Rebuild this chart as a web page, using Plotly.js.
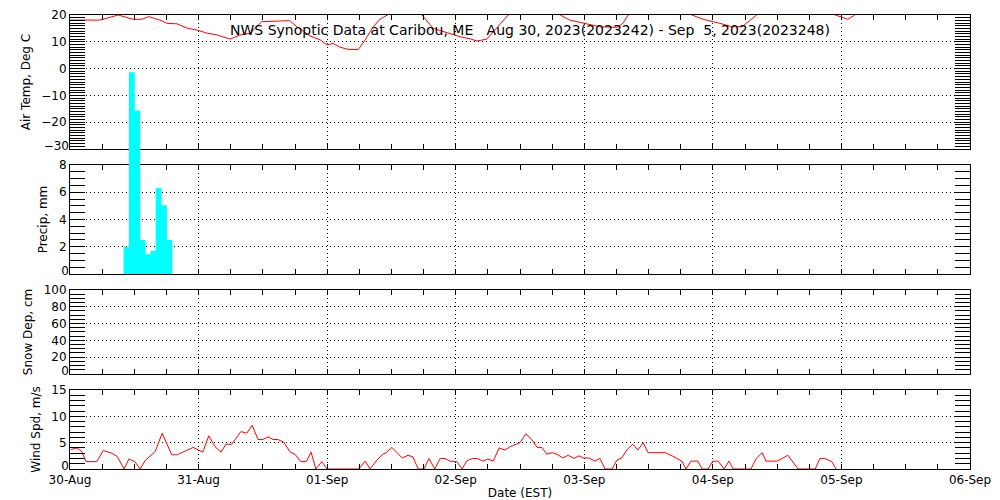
<!DOCTYPE html>
<html>
<head>
<meta charset="utf-8">
<script src="https://cdn.plot.ly/plotly-3.0.1.min.js"></script>
<style>html,body{margin:0;padding:0;background:#fff;}#chart{width:1000px;height:500px;}</style>
</head>
<body>
<div id="chart"></div>
<script>
// ---- Data ----
const chartTitle = "NWS Synoptic Data at Caribou, ME\u00a0\u00a0\u00a0Aug 30, 2023(2023242) - Sep\u00a0\u00a05, 2023(2023248)";

const tempTimes = [
  "2023-08-30 00:00","2023-08-30 05:36","2023-08-30 09:00","2023-08-30 11:48","2023-08-30 13:24",
  "2023-08-30 14:42","2023-08-30 16:48","2023-08-30 18:06","2023-08-30 20:00","2023-08-30 22:00",
  "2023-08-30 23:42","2023-08-31 01:36","2023-08-31 03:24","2023-08-31 05:18","2023-08-31 05:54",
  "2023-08-31 07:42","2023-08-31 09:36","2023-08-31 11:48","2023-08-31 15:12","2023-08-31 17:00",
  "2023-08-31 18:24","2023-08-31 20:48","2023-08-31 22:42","2023-09-01 00:00","2023-09-01 01:06",
  "2023-09-01 02:24","2023-09-01 03:54","2023-09-01 05:48","2023-09-01 07:06","2023-09-01 08:36",
  "2023-09-01 09:54","2023-09-01 11:42","2023-09-01 13:00","2023-09-01 15:00","2023-09-01 17:00",
  "2023-09-01 17:42","2023-09-01 19:48","2023-09-01 22:24","2023-09-02 00:48","2023-09-02 02:42",
  "2023-09-02 04:00","2023-09-02 05:48","2023-09-02 07:54","2023-09-02 09:48","2023-09-02 12:00",
  "2023-09-02 15:00","2023-09-02 18:00","2023-09-02 19:30","2023-09-02 21:18","2023-09-02 23:48",
  "2023-09-03 02:54","2023-09-03 06:06","2023-09-03 07:12","2023-09-03 08:12","2023-09-03 11:00",
  "2023-09-03 14:00","2023-09-03 17:00","2023-09-03 20:06","2023-09-03 22:12","2023-09-04 01:18",
  "2023-09-04 03:36","2023-09-04 05:24","2023-09-04 08:12","2023-09-04 11:00","2023-09-04 14:00",
  "2023-09-04 17:00","2023-09-04 20:00","2023-09-04 22:48","2023-09-04 23:42","2023-09-05 01:12",
  "2023-09-05 02:12","2023-09-05 02:48"
];
const airTemp = [
  18.1,18.1,20.0,18.4,18.4,
  19.4,18.1,16.9,16.7,15.0,
  14.4,13.2,12.6,11.3,11.0,
  12.5,13.2,17.5,17.9,17.9,
  15.6,12.2,10.7,8.8,9.4,
  8.0,7.2,7.1,10.7,15.6,
  18.5,20.5,22.5,24.0,21.5,
  20.0,15.0,13.4,11.9,11.1,
  10.3,11.0,15.6,20.0,23.0,
  25.0,24.0,20.0,18.1,16.9,
  15.6,15.4,16.9,20.0,23.0,
  25.0,23.0,20.0,18.4,16.9,
  15.6,15.6,20.0,23.0,25.0,
  24.0,22.0,20.2,19.6,18.4,
  19.6,20.4
];

const precipTimes = [
  "2023-08-30 10:00","2023-08-30 11:00","2023-08-30 12:00","2023-08-30 13:00","2023-08-30 14:00",
  "2023-08-30 15:00","2023-08-30 16:00","2023-08-30 17:00","2023-08-30 18:00"
];
const precip = [2.0, 14.8, 12.0, 2.5, 1.45, 1.7, 6.3, 5.05, 2.5];

const snowTimes = [];
const snowDepth = [];

const windTimes = [
  "2023-08-30 00:11","2023-08-30 01:18","2023-08-30 02:12","2023-08-30 03:00","2023-08-30 05:00",
  "2023-08-30 06:12","2023-08-30 07:48","2023-08-30 08:48","2023-08-30 10:06","2023-08-30 11:00",
  "2023-08-30 12:06","2023-08-30 13:06","2023-08-30 14:00","2023-08-30 15:54","2023-08-30 17:12",
  "2023-08-30 19:00","2023-08-30 20:00","2023-08-30 23:00","2023-08-31 00:48","2023-08-31 01:54",
  "2023-08-31 03:06","2023-08-31 04:12","2023-08-31 05:06","2023-08-31 06:12","2023-08-31 07:54",
  "2023-08-31 09:00","2023-08-31 10:00","2023-08-31 11:06","2023-08-31 12:00","2023-08-31 13:00",
  "2023-08-31 13:54","2023-08-31 14:48","2023-08-31 15:54","2023-08-31 17:06","2023-08-31 18:00",
  "2023-08-31 19:06","2023-08-31 20:06","2023-08-31 21:00","2023-08-31 21:54","2023-08-31 23:00",
  "2023-09-01 00:00","2023-09-01 05:54","2023-09-01 07:06","2023-09-01 08:00","2023-09-01 09:18",
  "2023-09-01 10:24","2023-09-01 11:00","2023-09-01 12:06","2023-09-01 14:00","2023-09-01 15:06",
  "2023-09-01 16:00","2023-09-01 17:00","2023-09-01 18:06","2023-09-01 19:00","2023-09-01 20:06",
  "2023-09-01 21:06","2023-09-01 22:00","2023-09-01 22:54","2023-09-02 00:12","2023-09-02 01:12",
  "2023-09-02 02:06","2023-09-02 03:12","2023-09-02 04:00","2023-09-02 05:06","2023-09-02 06:00",
  "2023-09-02 07:00","2023-09-02 08:06","2023-09-02 09:12","2023-09-02 10:06","2023-09-02 11:06",
  "2023-09-02 12:00","2023-09-02 13:06","2023-09-02 14:12","2023-09-02 15:12","2023-09-02 16:06",
  "2023-09-02 17:00","2023-09-02 18:00","2023-09-02 18:54","2023-09-02 20:00","2023-09-02 21:00",
  "2023-09-02 22:06","2023-09-02 23:00","2023-09-02 23:48","2023-09-03 00:54","2023-09-03 02:00",
  "2023-09-03 02:54","2023-09-03 03:54","2023-09-03 05:12","2023-09-03 06:06","2023-09-03 07:00",
  "2023-09-03 08:00","2023-09-03 09:06","2023-09-03 10:00","2023-09-03 11:00","2023-09-03 11:54",
  "2023-09-03 15:06","2023-09-03 16:24","2023-09-03 18:12","2023-09-03 19:00","2023-09-03 19:54",
  "2023-09-03 21:12","2023-09-03 22:00","2023-09-03 23:06","2023-09-04 00:00","2023-09-04 01:00",
  "2023-09-04 02:06","2023-09-04 03:00","2023-09-04 03:48","2023-09-04 07:06","2023-09-04 08:06",
  "2023-09-04 09:12","2023-09-04 09:54","2023-09-04 12:00","2023-09-04 14:00","2023-09-04 15:54",
  "2023-09-04 19:06","2023-09-04 20:00","2023-09-04 20:54","2023-09-04 22:12","2023-09-04 23:00"
];
const windSpeed = [
  3.7,4.0,3.3,1.4,1.4,
  3.5,3.0,2.4,0,1.9,
  1.4,0,1.6,3.3,6.8,
  2.7,2.7,4.1,3.2,6.3,
  4.2,3.2,4.7,4.7,7.1,
  6.8,8.3,5.6,5.6,6.1,
  5.6,5.6,5.1,3.2,2.8,
  1.4,1.4,3.2,0,1.4,
  0,0,1.5,0,1.7,
  2.8,3.1,4.1,2.1,2.6,
  2.3,0,0,2.0,0,
  2.0,2.0,1.5,1.4,0,
  1.6,2.0,2.0,1.5,1.9,
  1.5,4.0,3.6,4.2,4.7,
  5.0,6.7,5.6,4.1,4.1,
  2.8,3.1,2.8,2.1,2.6,
  2.0,2.5,2.1,2.1,1.5,
  2.0,0,0,1.7,2.1,
  3.7,4.7,3.6,5.0,3.1,
  3.1,2.5,1.5,0,1.5,
  1.5,0,0,1.5,1.5,
  0,1.5,0,0,2.0,
  3.1,1.5,1.5,2.6,0,
  0,2.0,2.0,1.4,0
];

const xRange = ["2023-08-30 00:00", "2023-09-06 00:00"];
const dayTick0 = "2023-08-30";
const tempTicks = [-30, -20, -10, 0, 10, 20];
const tempTickText = ["\u221230", "\u221220", "\u221210", "0", "10", "20"];
const precipTicks = [0, 2, 4, 6, 8];
const precipTickText = ["0", "2", "4", "6", "8"];
const snowTicks = [0, 20, 40, 60, 80, 100];
const snowTickText = ["0", "20", "40", "60", "80", "100"];
const windTicks = [0, 5, 10, 15];
const windTickText = ["0", "5", "10", "15"];
const yLabels = ["Air Temp, Deg C", "Precip, mm", "Snow Dep, cm", "Wind Spd, m/s"];
const xLabel = "Date (EST)";

// ---- Layout geometry ----
const FONT = "DejaVu Sans, Liberation Sans, sans-serif";
const DAY = 86400000, HOUR = 3600000;
const DOTS = "1px,3px";
const dTemp = [0.7048, 1.0];
const dPrecip = [0.4295, 0.6696];
const dSnow = [0.2093, 0.3943];
const dWind = [0.0, 0.1740];

function xAxis(anchor, labels) {
  return {
    type: "date", range: xRange, anchor: anchor,
    showline: true, linecolor: "black", linewidth: 1, mirror: "ticks",
    ticks: "inside", ticklen: 5, tickcolor: "black", tickwidth: 1,
    tick0: dayTick0, dtick: DAY, tickformat: "%d-%b",
    showticklabels: labels, tickfont: {family: FONT, size: 12, color: "black"},
    showgrid: true, gridcolor: "black", gridwidth: 1, griddash: DOTS,
    zeroline: false,
    minor: {dtick: 6 * HOUR, tick0: dayTick0, ticks: "inside", ticklen: 5, tickcolor: "black", tickwidth: 1, showgrid: false},
    title: labels ? {text: xLabel, font: {family: FONT, size: 12, color: "black"}, standoff: 2} : undefined
  };
}
// main y axis: all labels except the lowest one (IDL lifts the lowest label a little)
function yAxis(anchor, domain, range, ticks, texts, minorStep, label) {
  return {
    domain: domain, range: range, anchor: anchor,
    showline: true, linecolor: "black", linewidth: 1, mirror: "ticks",
    ticks: "inside", ticklen: 15, tickcolor: "black", tickwidth: 1,
    tickmode: "array", tickvals: ticks, ticktext: texts.map((t, i) => i === 0 ? "" : t),
    tickfont: {family: FONT, size: 12, color: "black"},
    showgrid: true, gridcolor: "black", gridwidth: 1, griddash: DOTS,
    zeroline: false,
    minor: {dtick: minorStep, ticks: "inside", ticklen: 15, tickcolor: "black", tickwidth: 1, showgrid: false},
    title: {text: label, font: {family: FONT, size: 12, color: "black"}, standoff: 8}
  };
}
function yBottomLabel(over, anchor, range, ticks, texts) {
  return {
    overlaying: over, anchor: anchor, side: "left", range: range,
    showline: false, showgrid: false, zeroline: false, ticks: "",
    tickmode: "array", tickvals: [ticks[0]], ticktext: [texts[0]],
    ticklabelshift: -3,
    tickfont: {family: FONT, size: 12, color: "black"}
  };
}

const precipScaleTop = 8 * (dTemp[1] - dPrecip[0]) / (dPrecip[1] - dPrecip[0]);

const traces = [
  {type: "scatter", mode: "lines", x: tempTimes, y: airTemp, xaxis: "x", yaxis: "y",
   line: {color: "#ff0000", width: 1}, hoverinfo: "skip"},
  {type: "scatter", mode: "lines", x: [], y: [], xaxis: "x2", yaxis: "y2", hoverinfo: "skip"},
  {type: "scatter", mode: "lines", x: snowTimes, y: snowDepth, xaxis: "x3", yaxis: "y3",
   line: {color: "#ff0000", width: 1}, hoverinfo: "skip"},
  {type: "scatter", mode: "lines", x: windTimes, y: windSpeed, xaxis: "x4", yaxis: "y4",
   line: {color: "#ff0000", width: 1}, hoverinfo: "skip"},
  {type: "bar", x: precipTimes, y: precip, xaxis: "x5", yaxis: "y5",
   width: HOUR * 1.1, offset: 0, marker: {color: "#00ffff", line: {width: 0}}, hoverinfo: "skip"},
  {type: "scatter", mode: "lines", x: [], y: [], xaxis: "x", yaxis: "y6", hoverinfo: "skip"},
  {type: "scatter", mode: "lines", x: [], y: [], xaxis: "x2", yaxis: "y7", hoverinfo: "skip"},
  {type: "scatter", mode: "lines", x: [], y: [], xaxis: "x3", yaxis: "y8", hoverinfo: "skip"},
  {type: "scatter", mode: "lines", x: [], y: [], xaxis: "x4", yaxis: "y9", hoverinfo: "skip"}
];

const layout = {
  width: 1000, height: 500,
  margin: {l: 70, r: 30, t: 15, b: 31, pad: 0},
  paper_bgcolor: "white", plot_bgcolor: "rgba(0,0,0,0)",
  showlegend: false,
  title: {text: chartTitle, x: 0.53, xanchor: "center", xref: "container", y: 1 - 30 / 500, yanchor: "middle", yref: "container",
          font: {family: FONT, size: 14, color: "black"}},
  xaxis: xAxis("y", false),
  xaxis2: xAxis("y2", false),
  xaxis3: xAxis("y3", false),
  xaxis4: xAxis("y4", true),
  xaxis5: {type: "date", range: xRange, anchor: "y5", visible: false, showgrid: false, zeroline: false},
  yaxis: yAxis("x", dTemp, [-30, 20], tempTicks, tempTickText, 1, yLabels[0]),
  yaxis2: yAxis("x2", dPrecip, [0, 8], precipTicks, precipTickText, 0.5, yLabels[1]),
  yaxis3: yAxis("x3", dSnow, [0, 100], snowTicks, snowTickText, 5, yLabels[2]),
  yaxis4: yAxis("x4", dWind, [0, 15], windTicks, windTickText, 1, yLabels[3]),
  yaxis5: {domain: [dPrecip[0], dTemp[1]], range: [0, precipScaleTop], anchor: "x5", visible: false, showgrid: false, zeroline: false},
  yaxis6: yBottomLabel("y", "x", [-30, 20], tempTicks, tempTickText),
  yaxis7: yBottomLabel("y2", "x2", [0, 8], precipTicks, precipTickText),
  yaxis8: yBottomLabel("y3", "x3", [0, 100], snowTicks, snowTickText),
  yaxis9: yBottomLabel("y4", "x4", [0, 15], windTicks, windTickText)
};

Plotly.newPlot("chart", traces, layout, {staticPlot: true, displayModeBar: false});
</script>
</body>
</html>
